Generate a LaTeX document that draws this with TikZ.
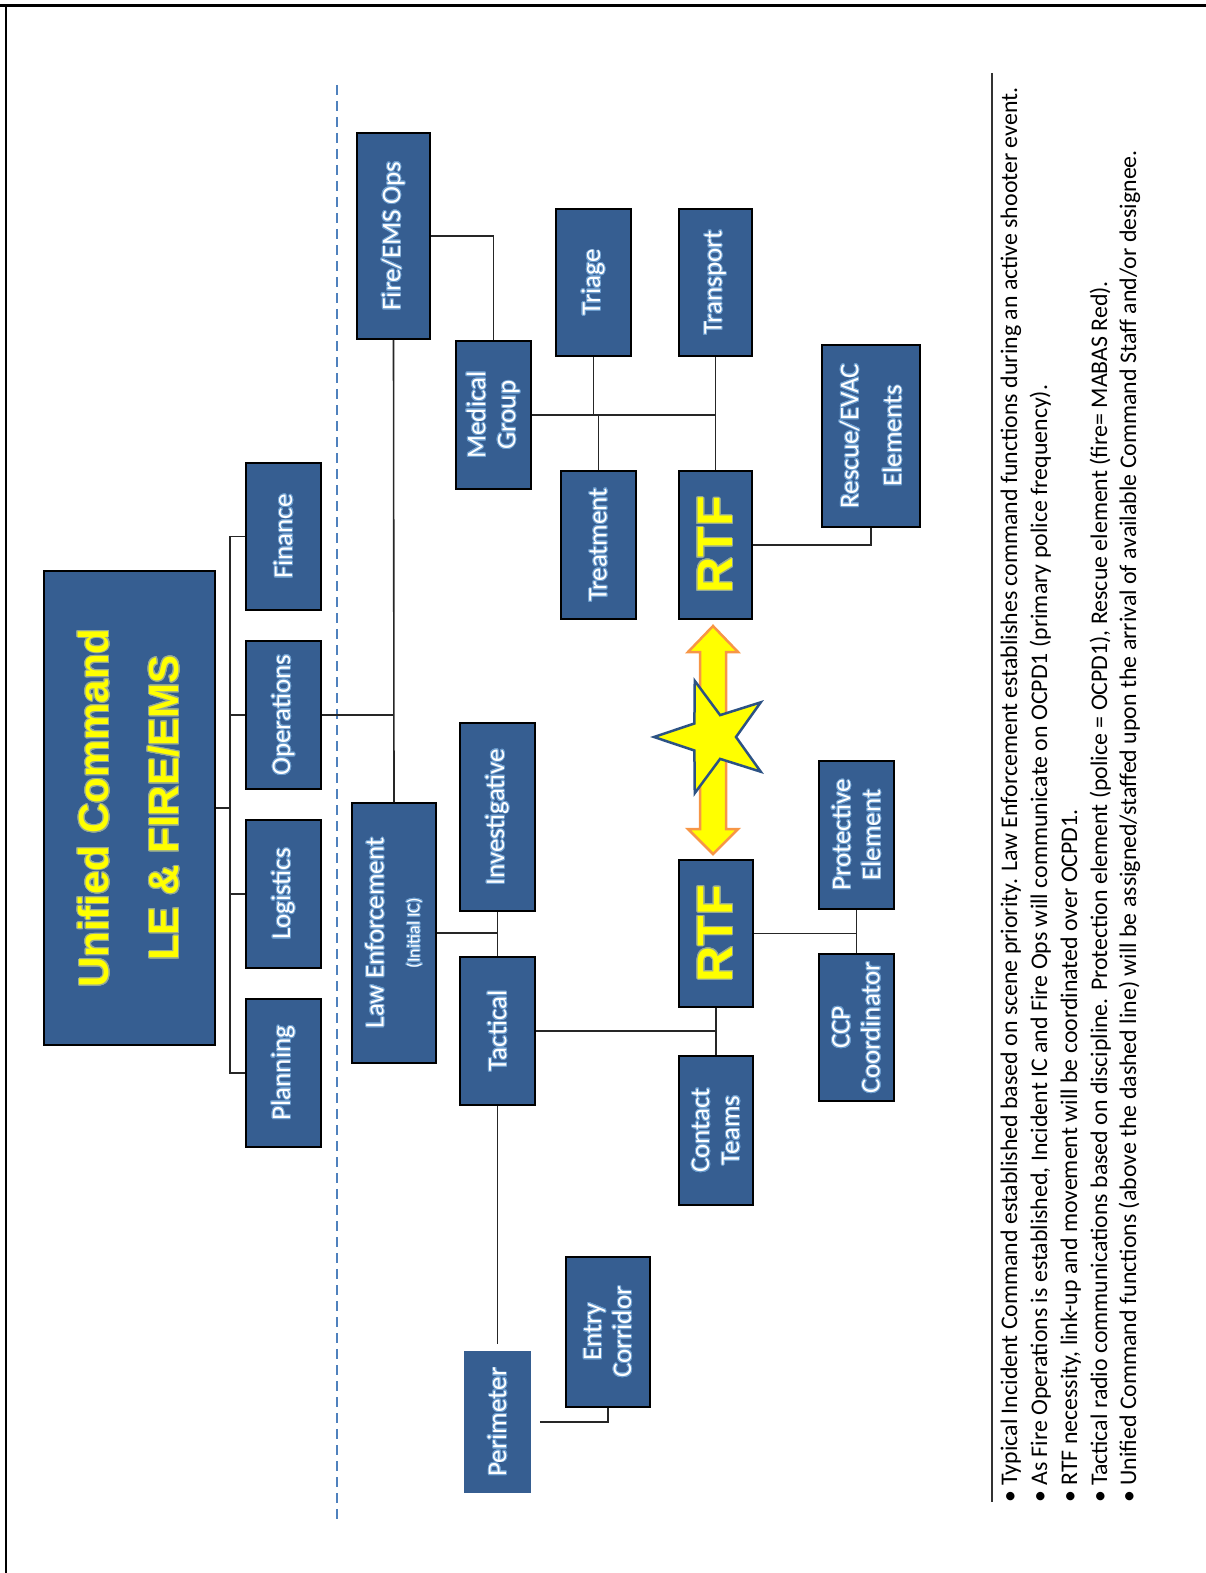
\documentclass[tikz,border=0pt]{standalone}
\usepackage{fontspec}
\usepackage{contour}
\setmainfont{Carlito}
\newfontfamily\arialfont{Liberation Sans}
\usetikzlibrary{calc}
\definecolor{boxblue}{RGB}{54,94,145}
\definecolor{dashblue}{RGB}{79,129,189}
\definecolor{ylw}{RGB}{255,255,0}
\definecolor{orng}{RGB}{247,150,70}
\definecolor{starblue}{RGB}{44,82,132}
\definecolor{glowblue}{RGB}{105,155,205}
\definecolor{glowyel}{RGB}{150,170,150}
\contournumber{24}
\newcommand{\gl}[1]{\contourlength{0.9pt}\contour{glowblue}{#1}}
\newcommand{\gy}[1]{\contourlength{1.0pt}\contour{glowyel}{#1}}
\begin{document}
\begin{tikzpicture}[x=1pt,y=-1pt,
  box/.style={rectangle, fill=boxblue, draw=black, line width=1.5pt, text=white,
    inner sep=0pt, align=center, rotate=90,
    font=\fontsize{27}{30}\selectfont},
  bigbox/.style={box, text=ylw, font=\arialfont\bfseries\fontsize{42}{70}\selectfont},
  rtfbox/.style={box, text=ylw, font=\arialfont\bfseries\fontsize{50}{56}\selectfont},
  conn/.style={draw=black!85, line width=1.6pt},
  note/.style={rotate=90, anchor=base west, inner sep=0pt, text=black,
    font=\fontsize{23.85}{26}\selectfont}
]
\useasboundingbox (0,0) rectangle (1206,1573);
% frame
\draw[line width=3pt] (0,6) -- (1206,6);
\draw[line width=2pt] (6,5) -- (6,1573);

% dashed separator
\draw[dashblue, line width=2.2pt, dash pattern=on 10pt off 6pt] (337,85) -- (337,1525);

% nodes (minimum width = image height, minimum height = image width)
\node[bigbox, minimum width=474, minimum height=171] (uc) at (129.5,808) {\gy{Unified Command}\\\gy{LE \& FIRE/EMS}};
\node[box, minimum width=147, minimum height=75] (fin) at (283.5,536.5) {\gl{Finance}};
\node[box, minimum width=148, minimum height=75] (ops) at (283.5,715) {\gl{Operations}};
\node[box, minimum width=148, minimum height=75] (log) at (283.5,894) {\gl{Logistics}};
\node[box, minimum width=148, minimum height=75] (plan) at (283.5,1073) {\gl{Planning}};

\node[box, minimum width=206, minimum height=73] (fire) at (393.5,236) {\gl{Fire/EMS Ops}};
\node[box, minimum width=260, minimum height=84] (le) at (394,933) {\gl{Law Enforcement}\\[6pt]{\fontsize{18}{20}\selectfont\gl{(Initial IC)}}};
\node[box, minimum width=148, minimum height=75] (med) at (493.5,415) {\gl{Medical}\\\gl{Group}};
\node[box, minimum width=188, minimum height=75] (inv) at (497.5,817) {\gl{Investigative}};
\node[box, minimum width=148, minimum height=75] (tac) at (497.5,1031) {\gl{Tactical}};
\node[box, draw=none, minimum width=142, minimum height=67] (perim) at (497.5,1422) {\gl{Perimeter}};
\node[box, minimum width=150, minimum height=84] (entry) at (608,1332) {\gl{Entry}\\\gl{Corridor}};

\node[box, minimum width=147, minimum height=75] (triage) at (593.5,282.5) {\gl{Triage}};
\node[box, minimum width=148, minimum height=75] (treat) at (598.5,545) {\gl{Treatment}};
\node[box, minimum width=147, minimum height=73] (trans) at (715.5,282.5) {\gl{Transport}};
\node[rtfbox, minimum width=148, minimum height=73] (rtfa) at (715.5,545) {\gy{RTF}};
\node[box, minimum width=182, minimum height=98, font=\fontsize{27}{43}\selectfont] (resc) at (871,436) {\gl{Rescue/EVAC}\\\gl{Elements}};

\node[rtfbox, minimum width=147, minimum height=74] (rtfb) at (716,933.5) {\gy{RTF}};
\node[box, minimum width=149, minimum height=74] (cont) at (716,1130.5) {\gl{Contact}\\\gl{Teams}};
\node[box, minimum width=148, minimum height=75] (prot) at (856.5,835) {\gl{Protective}\\\gl{Element}};
\node[box, minimum width=147, minimum height=75] (ccp) at (856.5,1027.5) {\gl{CCP}\\\gl{Coordinator}};

% connectors: command staff bus
\coordinate (bus) at (230,0);
\draw[conn] (uc.south) -- (uc.south -| bus);
\draw[conn] (fin.north) -- (fin.north -| bus) -- (plan.north -| bus) -- (plan.north);
\draw[conn] (ops.north) -- (ops.north -| bus);
\draw[conn] (log.north) -- (log.north -| bus);

% operations
\draw[conn] (ops.south) -- (ops.south -| fire.west);
\draw[conn] (fire.west) -- (le.east);

% fire branch
\draw[conn] (fire.south) -| (med.east);
\draw[conn] (med.south) -- (med.south -| trans.west);
\draw[conn] (triage.west) -- (triage.west |- med.south);
\draw[conn] (treat.east) -- (treat.east |- med.south);
\draw[conn] (trans.west) -- (rtfa.east);
\draw[conn] (rtfa.south) -| (resc.west);

% law enforcement branch
\draw[conn] (le.south) -- (le.south -| inv.west);
\draw[conn] (inv.west) -- (tac.east);
\draw[conn] (tac.south) -- (tac.south -| rtfb.west);
\draw[conn] (rtfb.west) -- (cont.east);
\draw[conn] (rtfb.south) -- (rtfb.south -| prot.west);
\draw[conn] (prot.west) -- (ccp.east);
\draw[conn, shorten >=6pt] (tac.west) -- (perim.east);
\draw[conn] ([xshift=8pt]perim.south) -| (entry.west);

% double arrow between RTFs
\draw[orng, line width=2.5pt, fill=ylw, line join=miter]
  (713,626) -- (738,652) -- (726,652) -- (726,829) -- (738,829) -- (713,854)
  -- (688,829) -- (700,829) -- (700,652) -- (688,652) -- cycle;
% star
\draw[starblue, line width=2.5pt, fill=ylw, shift={(713,737)}]
  (180:59) -- (216:23) -- (252:59) -- (288:23) -- (324:59) -- (0:23)
  -- (36:59) -- (72:23) -- (108:59) -- (144:23) -- cycle;

% notes
\draw[black!80, line width=1.5pt] (992,73) -- (992,1502);
\node[note] (n1) at (1017,1503) {\textbullet\ Typical Incident Command established based on scene priority. Law Enforcement establishes command functions during an active shooter event.};
\node[note] (n2) at (1047,1503) {\textbullet\ As Fire Operations is established, Incident IC and Fire Ops will communicate on OCPD1 (primary police frequency).};
\node[note] (n3) at (1077,1503) {\textbullet\ RTF necessity, link-up and movement will be coordinated over OCPD1.};
\node[note] (n4) at (1107,1503) {\textbullet\ Tactical radio communications based on discipline. Protection element (police = OCPD1), Rescue element (fire= MABAS Red).};
\node[note] (n5) at (1136,1503) {\textbullet\ Unified Command functions (above the dashed line) will be assigned/staffed upon the arrival of available Command Staff and/or designee.};
\end{tikzpicture}
\end{document}
